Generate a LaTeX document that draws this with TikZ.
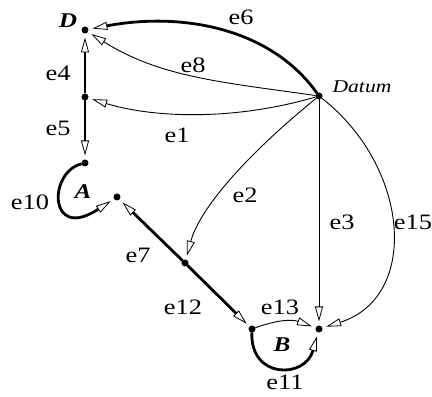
\documentclass[tikz,border=0pt]{standalone}
\usepackage{fontspec}
\setmainfont[FakeStretch=1.2]{Liberation Serif}
\usepackage{tikz}
\usetikzlibrary{arrows.meta}

\begin{document}
\begin{tikzpicture}
        [
            x=1pt, y=1pt,
            dot/.style={circle, fill=black, inner sep=0pt, minimum size=7pt, outer sep=4pt},
            light/.style={draw=black, line width=0.9pt, shorten <=-4pt,
                -{Triangle[open, line width=0.8pt, length=15pt, width=8pt]}},
            heavy/.style={light, line width=2.8pt},
            elabel/.style={font=\fontsize{22}{24}\selectfont, inner sep=0pt},
            vlabel/.style={font=\fontsize{21}{23}\selectfont\bfseries\itshape, inner sep=0pt}
        ]
        \useasboundingbox (0,0) rectangle (432,397);

        \node[dot] (d)     at (85,367)  {};
        \node[dot] (dmid)  at (85,300)  {};
        \node[dot] (atop)  at (85,234)  {};
        \node[dot] (a)     at (117,200) {};
        \node[dot] (amid)  at (185,134) {};
        \node[dot] (bl)    at (252,68)  {};
        \node[dot] (br)    at (319,68)  {};
        \node[dot] (datum) at (319,301) {};

        \node[vlabel] (ld) at (68,376) {D};
        \node[vlabel] (la) at (83,205) {A};
        \node[vlabel] (lb) at (282,52) {B};
        \node[font=\fontsize{18}{20}\selectfont\itshape, inner sep=0pt] (ldatum) at (362,310) {Datum};

        \draw[heavy] (datum) .. controls (270,370) and (180,385) .. (d);
        \draw[light] (datum) .. controls (220,315) and (160,320) .. (d);
        \draw[light] (datum) .. controls (230,275) and (150,280) .. (dmid);
        \draw[light] (datum) .. controls (250,245) and (200,190) .. (amid);
        \draw[light] (datum) -- (br);
        \draw[light] (datum) .. controls (410,230) and (420,100) .. (br);
        \draw[heavy] (dmid) -- (d);
        \draw[heavy] (dmid) -- (atop);
        \draw[heavy] (atop) .. controls (48,225) and (48,155) .. (a);
        \draw[heavy] (amid) -- (a);
        \draw[heavy] (amid) -- (bl);
        \draw[light] (bl) to[bend left=20] (br);
        \draw[heavy] (bl) .. controls (250,18) and (305,18) .. (br);

        \node[elabel] (le6)  at (241,380) {e6};
        \node[elabel] (le8)  at (193,332) {e8};
        \node[elabel] (le4)  at (58,324)  {e4};
        \node[elabel] (le5)  at (58,269)  {e5};
        \node[elabel] (le1)  at (177,262) {e1};
        \node[elabel] (le2)  at (245,202) {e2};
        \node[elabel] (le3)  at (342,175) {e3};
        \node[elabel] (le15) at (413,175) {e15};
        \node[elabel] (le10) at (30,195)  {e10};
        \node[elabel] (le7)  at (138,142) {e7};
        \node[elabel] (le12) at (183,90)  {e12};
        \node[elabel] (le13) at (280,90)  {e13};
        \node[elabel] (le11) at (285,15)  {e11};
\end{tikzpicture}
\end{document}
